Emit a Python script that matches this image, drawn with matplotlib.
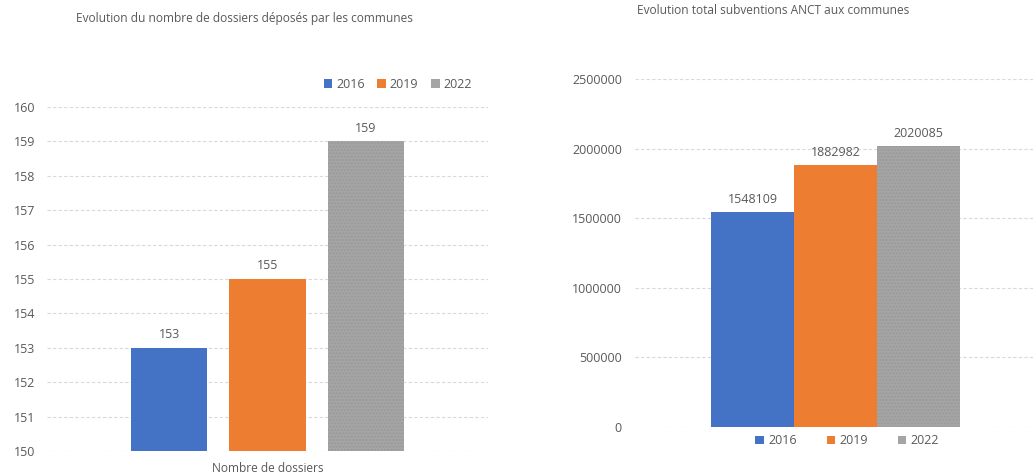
import numpy as np
import matplotlib
matplotlib.use('Agg')
import matplotlib.pyplot as plt
from matplotlib.patches import Patch

# ============== 数据 ==============
years = ['2016', '2019', '2022']
dossiers = [153, 155, 159]
subventions = [1548109, 1882982, 2020085]
colors = ['#4472c4', '#ed7d31', '#a5a5a5']

TXT = '#595959'
GRID = '#d9d9d9'
plt.rcParams['font.family'] = ['Open Sans', 'DejaVu Sans']

fig = plt.figure(figsize=(10.33, 4.76), dpi=100, facecolor='white')


def style_axes(ax):
    for s in ax.spines.values():
        s.set_visible(False)
    ax.tick_params(axis='both', length=0, colors=TXT, labelsize=9)
    ax.yaxis.grid(True, color=GRID, linestyle=(0, (3, 2)), linewidth=0.8)
    ax.set_axisbelow(True)
    ax.set_xticks([])


def draw_bar(ax, x, h, w, c, bottom=0):
    if c == '#a5a5a5':
        ax.bar(x, h - bottom, w, bottom=bottom, color=c, edgecolor='#9a9a9a',
               hatch='.....', linewidth=0)
    else:
        ax.bar(x, h - bottom, w, bottom=bottom, color=c, linewidth=0)


handles = [Patch(facecolor=c, edgecolor='none') for c in colors]

# ---- 左图: 数量 ----
ax1 = fig.add_axes([0.0455, 0.0525, 0.427, 0.7227])
style_axes(ax1)
pos = np.arange(len(years)) - 1
for i in range(len(years)):
    draw_bar(ax1, pos[i], dossiers[i], 0.78, colors[i], bottom=150)
    ax1.text(pos[i], dossiers[i] + 0.2, str(dossiers[i]), ha='center', va='bottom',
             color=TXT, fontsize=9)
ax1.set_ylim(150, 160)
ax1.set_xlim(-2.239, 2.239)
ax1.set_yticks(range(150, 161))
ax1.tick_params(axis='y', pad=8.5)
ax1.text(0.5, -0.032, 'Nombre de dossiers', transform=ax1.transAxes,
         ha='center', va='top', color=TXT, fontsize=8.6)
fig.text(0.237, 0.962, 'Evolution du nombre de dossiers déposés par les communes',
         ha='center', va='center', color=TXT, fontsize=8.6)
fig.legend(handles, years, loc='center', bbox_to_anchor=(0.385, 0.823), ncol=3,
           frameon=False, fontsize=9, labelcolor=TXT, handlelength=0.7,
           handleheight=0.7, handletextpad=0.3, columnspacing=1.0)

# ---- 右图: 金额 ----
ax2 = fig.add_axes([0.6147, 0.1029, 0.3872, 0.731])
style_axes(ax2)
for i in range(len(years)):
    draw_bar(ax2, pos[i], subventions[i], 1.0, colors[i])
    ax2.text(pos[i], subventions[i] + 40000, str(subventions[i]), ha='center',
             va='bottom', color=TXT, fontsize=9)
ax2.set_ylim(0, 2500000)
ax2.set_xlim(-2.416, 2.40)
yt = list(range(0, 2500001, 500000))
ax2.set_yticks(yt)
ax2.set_yticklabels([str(v) for v in yt])
ax2.tick_params(axis='y', pad=9.4)
fig.text(0.748, 0.977, 'Evolution total subventions ANCT aux communes',
         ha='center', va='center', color=TXT, fontsize=8.6)
fig.legend(handles, years, loc='center', bbox_to_anchor=(0.82, 0.074), ncol=3,
           frameon=False, fontsize=9, labelcolor=TXT, handlelength=0.7,
           handleheight=0.7, handletextpad=0.3, columnspacing=2.4)

fig.savefig('out.png', dpi=100, facecolor='white')
